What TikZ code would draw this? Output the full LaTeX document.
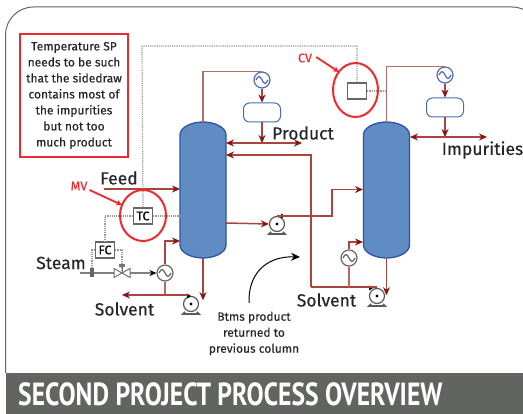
\documentclass[tikz,border=0pt]{standalone}
\usepackage{fontspec}
\setmainfont[FakeBold=0.3]{Fira Sans}
\newfontfamily\bannerfont[FakeStretch=0.8]{PT Sans}
\usetikzlibrary{arrows.meta,positioning,calc}
\definecolor{vesselfill}{HTML}{5F8DC3}
\definecolor{vesseledge}{HTML}{2F52A8}
\definecolor{linered}{HTML}{A8453F}
\definecolor{tipred}{HTML}{8A1414}
\definecolor{markred}{HTML}{EE2A2E}
\definecolor{bannergrey}{HTML}{626462}
\begin{document}
\begin{tikzpicture}[x=1pt,y=-1pt]
  \tikzstyle{txtbig}=[font=\fontsize{17.5}{19}\selectfont,text=black!85,inner sep=0pt]
  \tikzstyle{txtsmall}=[font=\fontsize{12}{16}\selectfont,text=black!85,align=center,inner sep=0pt]
  \tikzstyle{txtred}=[font=\fontsize{12.5}{14}\selectfont,text=markred,inner sep=0pt]
  \tikzstyle{pipe}=[draw=linered!80,line width=1.2pt]
  \tikzstyle{flow}=[draw=linered,line width=1.5pt,-{Stealth[length=8pt,width=7pt,color=tipred]}]
  \tikzstyle{signal}=[draw=black!40,line width=1.2pt,densely dotted]
  \tikzstyle{ctrl}=[draw=black!60,line width=1.4pt,fill=white,minimum width=19pt,minimum height=16pt,inner sep=0pt,font=\fontsize{12.5}{13}\selectfont]
  \tikzstyle{drum}=[draw=vesseledge!85,line width=1pt,fill=white,rounded corners=6pt,inner sep=0pt,minimum width=37pt,minimum height=19pt]
  \tikzstyle{ring}=[draw=markred,line width=2pt]
  \tikzstyle{hx}=[circle,draw=#1,line width=1.2pt,fill=white,minimum size=16pt,inner sep=0pt,
    path picture={\draw[#1,shift={(path picture bounding box.center)}] (-6,0) sin (-3,-3.5) cos (0,0) sin (3,3.5) cos (6,0);}]
  \tikzstyle{pumpbody}=[circle,draw=black!65,line width=1.2pt,fill=white,minimum size=15pt,inner sep=0pt]

  \useasboundingbox (0,0) rectangle (523,414);
  \clip (0,0) rectangle (523,414);
  \node[inner sep=0pt,minimum width=523pt,minimum height=414pt,fill=white] (page) at (261.5,207) {};
  \draw[black!60,line width=1pt,rounded corners=28pt] (5.5,373) -- (5.5,7) -- (540,7) -- (540,373);
  \node[fill=bannergrey,inner sep=0pt,minimum width=518pt,minimum height=41pt] (banner) at (264.5,393.5) {};
  \node[anchor=west,inner sep=0pt,text=white,font=\bannerfont\bfseries\fontsize{32}{34}\selectfont] (bannertext) at (18,394.5) {SECOND PROJECT PROCESS OVERVIEW};

  % columns
  \foreach \cx/\nm in {203/colA,386.5/colB}{
    \node[inner sep=0pt,minimum width=46pt,minimum height=136pt] (\nm) at (\cx,190) {};
    \draw[draw=vesseledge,line width=1.3pt,fill=vesselfill]
      (\cx-23,135) .. controls (\cx-23,127) and (\cx-11,122) .. (\cx,122)
      .. controls (\cx+11,122) and (\cx+23,127) .. (\cx+23,135) -- (\cx+23,245)
      .. controls (\cx+23,253) and (\cx+11,258) .. (\cx,258)
      .. controls (\cx-11,258) and (\cx-23,253) .. (\cx-23,245) -- cycle;
  }

  % equipment
  \node[hx=vesseledge!85] (condA) at (262,80) {};
  \node[hx=vesseledge!85] (condB) at (445,75) {};
  \node[hx=black!60] (rebA) at (165,273) {};
  \node[hx=black!60] (rebB) at (349,258) {};
  \node[drum] (drumA) at (262,112.5) {};
  \node[drum] (drumB) at (445,107.5) {};
  \foreach \nm/\px/\py/\tx in {pumpA/191/304/-2,pumpB/277/224/6,pumpC/377/296/-6}{
    \draw[black!65,line width=1.6pt] (\px-6,\py+8) -- (\px-8,\py+10) -- (\px+8,\py+10) -- (\px+6,\py+8);
    \node[pumpbody] (\nm) at (\px,\py) {};
    \fill[black] (\nm) circle (1.6pt);
    \fill[black] (\px+\tx+2,\py-8) -- (\px+\tx-2,\py-10.5) -- (\px+\tx-2,\py-5.5) -- cycle;
  }

  % joints and free ends
  \coordinate (prodL) at (226,143);
  \coordinate (prodJ) at (262,143);
  \coordinate (prodR) at (302,143);
  \coordinate (impL) at (410,137);
  \coordinate (impJ) at (445,137);
  \coordinate (impR) at (487,137);
  \coordinate (btmsIn) at (226,155);
  \coordinate (btmsC) at (311,287);
  \coordinate (btmsJ) at (349,287);
  \coordinate (rebInA) at (180,241);
  \coordinate (rebInB) at (363,242);
  \coordinate (solvJ) at (165,295);
  \coordinate (solvL) at (122,295);
  \coordinate (solvR) at (188,295);
  \coordinate (feedS) at (104,189);
  \coordinate (feedE) at (180,189);
  \coordinate (drawA) at (226,223);
  \coordinate (drawE) at (332,189.5);
  \coordinate (drawB) at (363,189.5);
  \coordinate (dotTop) at (142,46);
  \coordinate (tempA) at (180,216);
  \coordinate (tempB) at (386,91);

  % process lines
  \path[pipe] (colA.north) |- (condA.north);
  \path[pipe] (colB.north) |- (condB.north);
  \path[flow,line width=1.1pt] (condA) -- (drumA);
  \path[flow,line width=1.1pt] (condB) -- (drumB);
  \path[flow,line width=1.1pt] (drumA) -- (prodJ);
  \path[flow,line width=1.1pt] (drumB) -- (impJ);
  \path[flow] (prodJ) -- (prodL);
  \path[flow] (prodJ) -- (prodR);
  \path[flow] (impJ) -- (impL);
  \path[flow] (impJ) -- (impR);
  \path[flow] (btmsC) |- (btmsIn);
  \path[draw=linered,line width=1.5pt] (btmsC) -- (btmsC -| pumpC);
  \path[flow,line width=1.1pt] (colB.south) -- ++(0,37);
  \path[flow,line width=1.1pt] (colA.south) -- ++(0,42);
  \path[pipe] (btmsJ) -- (rebB);
  \path[flow,line width=1.1pt] (rebB.north) |- (rebInB);
  \path[pipe] (solvJ) -- (rebA);
  \path[flow,line width=1.1pt] (rebA.north) |- (rebInA);
  \path[flow] (solvR) -- (solvL);
  \path[flow] (feedS) -- (feedE);
  \path[flow] (drawA) -- (pumpB.west);
  \path[flow] (pumpB.north) -- (pumpB.north -| drawE) -- (drawE) -- (drawB);

  % instruments
  \node[ctrl] (tc) at (143,216) {TC};
  \node[ctrl] (fc) at (105,250) {FC};
  \node[ctrl] (cv) at (357,91) {};
  \coordinate (orifice) at (92,273);
  \coordinate (valve) at (122,273);
  \coordinate (steamS) at (80,273);

  \path[signal] (tc.north) -- (dotTop) -| (cv.north);
  \path[signal] (tc.east) -- (tempA);
  \path[signal] (cv.east) -- (tempB);
  \path[signal] (tc.west) -| (fc.north);
  \path[signal] (fc.west) -| (orifice);
  \path[signal] (fc.east) -| (valve);

  \draw[black!50,line width=1.4pt] (steamS) -- (valve);
  \draw[black!50,line width=1.4pt,-{Stealth[length=7pt,width=6pt,color=black]}] (valve) -- (rebA.west);
  \node[inner sep=0pt,minimum width=4pt,minimum height=9pt,fill=black!60] (oriplate) at (orifice) {};
  \draw[black!55,line width=1pt,fill=white] (valve) -- ++(-8,-4.5) -- ++(0,9) -- cycle;
  \draw[black!55,line width=1pt,fill=white] (valve) -- ++(8,-4.5) -- ++(0,9) -- cycle;
  \draw[black!55,line width=1pt] (valve) -- ++(0,-7);
  \fill[black!55] ($(valve)+(-3,-6)$) rectangle ($(valve)+(3,-9)$);

  % markups
  \node[draw=markred,line width=2pt,inner sep=0pt,minimum width=108pt,minimum height=123pt,fill=white] (note) at (74,95.5) {};
  \node[txtsmall] (notetext) at (note) {Temperature SP\\needs to be such\\that the sidedraw\\contains most of\\the impurities\\but not too\\much product};
  \draw[ring] (143,215.5) ellipse (23 and 25.5);
  \draw[ring] (355.5,90) ellipse (22.5 and 27);
  \node[txtred] (mv) at (79,186) {MV};
  \node[txtred] (cvtxt) at (305,58) {CV};
  \coordinate (mvend) at (122,205);
  \coordinate (cvend) at (339,72);
  \draw[draw=markred,line width=1.8pt,-{Stealth[length=6pt,width=6pt]}] (mv.east)++(2,4) -- (mvend);
  \draw[draw=markred,line width=1.8pt,-{Stealth[length=6pt,width=6pt]}] (cvtxt.east)++(4,-1) -- (cvend);

  % labels
  \node[txtbig] (feed) at (119,178) {Feed};
  \node[txtbig] (steam) at (61,263) {Steam};
  \node[txtbig] (solvA) at (124.5,309) {Solvent};
  \node[txtbig] (solvB) at (326.5,300) {Solvent};
  \node[txtbig] (prod) at (303,133) {Product};
  \node[txtbig] (imp) at (482.5,150) {Impurities};
  \node[txtsmall] (btms) at (254,333.5) {Btms product\\returned to\\previous column};
  \coordinate (btmsEnd) at (300,257);
  \draw[black,line width=1pt,-{Stealth[length=9pt,width=8pt]}] (249,303) .. controls (248,275) and (265,256) .. (btmsEnd);
\end{tikzpicture}
\end{document}
